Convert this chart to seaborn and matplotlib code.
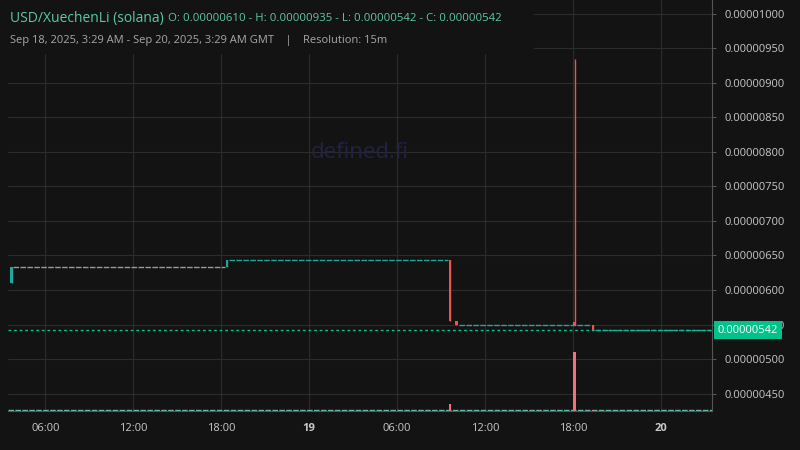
import matplotlib
matplotlib.use("Agg")
import matplotlib.pyplot as plt
import seaborn as sns
import pandas as pd

# ====== DATA (x = hours since Sep 18 00:00 GMT, prices in 1e-6) ======
candle_x = [3.7, 18.38, 33.62, 34.05, 42.12, 43.38]
candle_open = [6.10, 6.33, 6.43, 5.55, 5.50, 5.50]
candle_high = [6.33, 6.43, 6.43, 5.55, 9.35, 5.50]
candle_low = [6.10, 6.33, 5.55, 5.50, 5.49, 5.42]
candle_close = [6.33, 6.43, 5.55, 5.50, 5.49, 5.42]

flat_start = [3.8, 18.5, 34.2, 43.5]
flat_end = [18.25, 33.5, 43.25, 51.45]
flat_level = [6.33, 6.43, 5.50, 5.42]
flat_color = ["#9a9a9a", "#26a69a", "#26a69a", "#26a69a"]

vol_x = [33.62, 42.12, 43.38]
vol_val = [0.12, 1.0, 0.02]

last_price = 5.42
tick_hours = [6, 12, 18, 24, 30, 36, 42, 48]
tick_labels = ["06:00", "12:00", "18:00", "19", "06:00", "12:00", "18:00", "20"]

BG = "#131313"
GREEN = "#26a69a"
RED = "#ef5350"

sns.set_style("dark", {"axes.facecolor": BG, "figure.facecolor": BG})
plt.rcParams["font.family"] = ["Open Sans", "DejaVu Sans"]
fig = plt.figure(figsize=(8, 4.5), dpi=100)
ax = fig.add_axes([0.01, 0.087, 0.88, 0.913])
ax.set_facecolor(BG)

# grid
for h in tick_hours:
    ax.axvline(h, color="#2c2c2c", lw=0.8, zorder=0)
yt = [4.5 + 0.5 * i for i in range(12)]
for y in yt:
    ax.axhline(y, color="#2c2c2c", lw=0.8, zorder=0)

# flat segments
for s, e, lv, c in zip(flat_start, flat_end, flat_level, flat_color):
    d = pd.DataFrame({"x": [s, e], "y": [lv, lv]})
    sns.lineplot(data=d, x="x", y="y", ax=ax, color=c, lw=1, linestyle=(0, (4, 1)), zorder=2)

# candles
for x, o, h, l, c in zip(candle_x, candle_open, candle_high, candle_low, candle_close):
    col = GREEN if c >= o else RED
    ax.vlines(x, l, h, color=col, lw=1, zorder=3)
    ax.bar(x, max(abs(c - o), 0.05), bottom=min(o, c), width=0.16, color=col,
           edgecolor="none", zorder=3)

# last price line
ax.axhline(last_price, color="#00c28a", lw=1, linestyle=(0, (2, 2)), zorder=2)

# volume on twin axis
vax = ax.twinx()
vax.bar(vol_x, vol_val, width=0.15, color="#f2707a", edgecolor="none", zorder=3)
vax.axhline(0.01, color="#5fb8a8", lw=1, linestyle=(0, (4, 1)))
vax.set_ylim(0, 7)
vax.set_yticks([])
vax.grid(False)

ax.set_xlim(3.45, 51.5)
ax.set_ylim(4.25, 10.2)
ax.set_xticks(tick_hours)
ax.set_xticklabels(tick_labels)
for lbl in ax.get_xticklabels():
    lbl.set_color("#c8c8c8")
    lbl.set_fontsize(8)
    if lbl.get_text() in ("19", "20"):
        lbl.set_fontweight("bold")
ax.yaxis.tick_right()
ax.set_yticks(yt)
ax.set_yticklabels([f"{v / 1e6:.8f}" for v in yt], color="#c8c8c8", fontsize=8)
ax.tick_params(length=3, color="#555555", pad=6)
ax.set_xlabel("")
ax.set_ylabel("")
for side in ["top", "left"]:
    ax.spines[side].set_visible(False)
for side in ["right", "bottom"]:
    ax.spines[side].set_color("#555555")
for sp in vax.spines.values():
    sp.set_visible(False)

vax.annotate(f"{last_price / 1e6:.8f}", xy=(1.0, last_price), xycoords=("axes fraction", ax.transData),
             xytext=(4, 0), textcoords="offset points", va="center", ha="left", fontsize=8,
             color="white", zorder=10, annotation_clip=False,
             bbox=dict(boxstyle="square,pad=0.35", fc="#00c28a", ec="none"))

ax.text(0.5, 0.63, "defined.fi", transform=ax.transAxes, ha="center", va="center",
        fontsize=16, color="#222244", zorder=1)

# header panel
fig.patches.append(plt.Rectangle((0, 0.88), 0.668, 0.12, transform=fig.transFigure,
                                 facecolor=BG, edgecolor="none", zorder=5))
fig.text(0.0125, 0.958, "USD/XuechenLi (solana)", color="#5cc8a8", fontsize=10, va="center", zorder=6)
fig.text(0.21, 0.958, "O: 0.00000610 - H: 0.00000935 - L: 0.00000542 - C: 0.00000542",
         color="#5cc8a8", fontsize=8.2, va="center", zorder=6)
fig.text(0.0125, 0.91, "Sep 18, 2025, 3:29 AM - Sep 20, 2025, 3:29 AM GMT    |    Resolution: 15m",
         color="#a8a8a8", fontsize=8, va="center", zorder=6)

fig.savefig("out.png", dpi=100, facecolor=BG)
